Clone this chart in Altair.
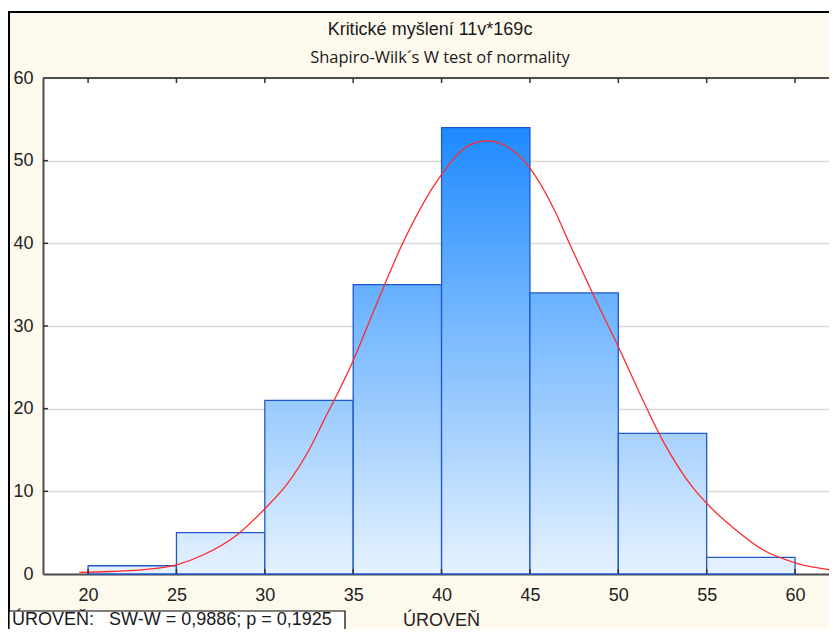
import altair as alt
import pandas as pd

# ---------------- data ----------------
bin_start = [20, 25, 30, 35, 40, 45, 50, 55]
bin_end = [25, 30, 35, 40, 45, 50, 55, 60]
counts = [1, 5, 21, 35, 54, 34, 17, 2]

curve_x = [19.5, 21.2, 23.0, 25.0, 26.5, 28.4, 30.0, 31.3, 32.6, 33.3, 35.0, 36.1,
           37.8, 39.9, 41.6, 42.6, 44.0, 45.0, 46.3, 47.4, 49.0, 50.0, 51.2, 52.5,
           54.2, 55.2, 56.5, 58.2, 60.1, 62.4]
curve_y = [0.2, 0.3, 0.5, 1.1, 2.3, 4.7, 7.9, 11.0, 15.4, 18.4, 25.8, 31.5,
           40.0, 48.0, 51.9, 52.4, 51.3, 49.1, 44.4, 39.2, 31.9, 27.5, 21.9, 16.2,
           10.5, 8.1, 5.6, 2.9, 1.3, 0.4]

x_ticks = [20, 25, 30, 35, 40, 45, 50, 55, 60]
y_ticks = [0, 10, 20, 30, 40, 50, 60]

title_1 = "Kritické myšlení 11v*169c"
title_2 = "Shapiro-Wilk´s W test of normality"
x_title = "ÚROVEŇ"
box_text = "ÚROVEŇ:\u00a0\u00a0\u00a0SW-W = 0,9886; p = 0,1925"

# ---------------- layout / style ----------------
W, H = 786, 496
FONT = "Liberation Sans"
CREAM = "#FEF9ED"
BORDER = "#4d4d4d"

xscale = alt.Scale(domain=[17.45, 61.92], nice=False, zero=False)
yscale = alt.Scale(domain=[0, 60], nice=False)

xaxis = alt.Axis(values=x_ticks, title=x_title, ticks=False, grid=False,
                 labelFont=FONT, labelFontSize=18, labelColor="#222222",
                 labelPadding=12, domain=True, domainColor=BORDER, domainWidth=2,
                 titleFont=FONT, titleFontSize=18, titleFontWeight="normal",
                 titleColor="#222222", titleBaseline="alphabetic", titleY=51,
                 titleX=398)
yaxis = alt.Axis(values=y_ticks, title=None, ticks=False, grid=True,
                 gridColor="#d9d9d9", gridWidth=1.5,
                 labelFont=FONT, labelFontSize=18, labelColor="#222222",
                 labelPadding=10, domain=True, domainColor=BORDER, domainWidth=2)


def X(field):
    return alt.X(field, type="quantitative", scale=xscale, axis=xaxis)


def Y(field):
    return alt.Y(field, type="quantitative", scale=yscale, axis=yaxis)


def lerp_color(t):
    light = (0xE6, 0xF2, 0xFE)
    dark = (0x1E, 0x8A, 0xFF)
    c = [round(l + (d - l) * t) for l, d in zip(light, dark)]
    return "#%02x%02x%02x" % tuple(c)


one = pd.DataFrame({"k": [0]})
layers = []

# white strip above frame, frame lines
layers.append(alt.Chart(one).mark_rect(fill="white").encode(
    x=alt.value(-35), x2=alt.value(W), y=alt.value(-70), y2=alt.value(-67)))
layers.append(alt.Chart(one).mark_rule(color="black", strokeWidth=2).encode(
    x=alt.value(-35), x2=alt.value(W), y=alt.value(-66)))
layers.append(alt.Chart(one).mark_rule(color="black", strokeWidth=2).encode(
    x=alt.value(-34), y=alt.value(-67), y2=alt.value(H + 80)))

# bars, each with its own gradient (darker the taller)
maxc = max(counts)
for s, e, c in zip(bin_start, bin_end, counts):
    df = pd.DataFrame({"x0": [s], "x1": [e], "n": [c], "base": [0]})
    grad = alt.Gradient(gradient="linear",
                        stops=[alt.GradientStop(color=lerp_color(c / maxc), offset=0),
                               alt.GradientStop(color=lerp_color(0), offset=1)],
                        x1=0, x2=0, y1=0, y2=1)
    layers.append(alt.Chart(df).mark_rect(fill=grad, stroke="#2058cc", strokeWidth=1.3).encode(
        x=X("x0"), x2="x1", y=Y("n"), y2="base"))

# normal curve
cdf = pd.DataFrame({"x": curve_x, "y": curve_y})
layers.append(alt.Chart(cdf).mark_line(color="#ff2a2a", strokeWidth=1.3,
                                       interpolate="monotone", clip=True).encode(
    x=X("x"), y=Y("y")))

# top border and inner ticks
layers.append(alt.Chart(one).mark_rule(color=BORDER, strokeWidth=2).encode(
    x=alt.value(0), x2=alt.value(W), y=alt.value(0)))
xt = pd.DataFrame({"x": x_ticks})
layers.append(alt.Chart(xt).mark_rule(color="#333333", strokeWidth=1.5).encode(
    x=X("x"), y=alt.value(0), y2=alt.value(5)))
layers.append(alt.Chart(xt).mark_rule(color="#333333", strokeWidth=1.5).encode(
    x=X("x"), y=alt.value(H - 5), y2=alt.value(H)))
yt = pd.DataFrame({"y": y_ticks[1:-1]})
layers.append(alt.Chart(yt).mark_rule(color="#333333", strokeWidth=1.5).encode(
    y=Y("y"), x=alt.value(0), x2=alt.value(5)))

# titles
t1 = pd.DataFrame({"t": [title_1]})
layers.append(alt.Chart(t1).mark_text(font=FONT, fontSize=18, color="#1a1a1a",
                                      align="center", baseline="alphabetic").encode(
    text="t:N", x=alt.value(387), y=alt.value(-43)))
t2 = pd.DataFrame({"t": [title_2]})
layers.append(alt.Chart(t2).mark_text(font="Open Sans", fontSize=16.5, color="#1a1a1a",
                                      align="center", baseline="alphabetic").encode(
    text="t:N", x=alt.value(397), y=alt.value(-15)))

# statistic box
layers.append(alt.Chart(one).mark_rect(fill="white", stroke="black", strokeWidth=1.2).encode(
    x=alt.value(-34), x2=alt.value(302), y=alt.value(533), y2=alt.value(H + 100)))
bt = pd.DataFrame({"t": [box_text]})
layers.append(alt.Chart(bt).mark_text(font=FONT, fontSize=18, color="#1a1a1a",
                                      align="left", baseline="alphabetic").encode(
    text="t:N", x=alt.value(-31), y=alt.value(547)))

chart = alt.layer(*layers).properties(
    width=W, height=H,
    autosize=alt.AutoSizeParams(type="none"),
    padding={"left": 35, "top": 70, "right": 0, "bottom": 55},
    background=CREAM,
).configure_view(fill="white", stroke="transparent")

chart.save("out.html", embed_options={"renderer": "svg", "actions": False})
